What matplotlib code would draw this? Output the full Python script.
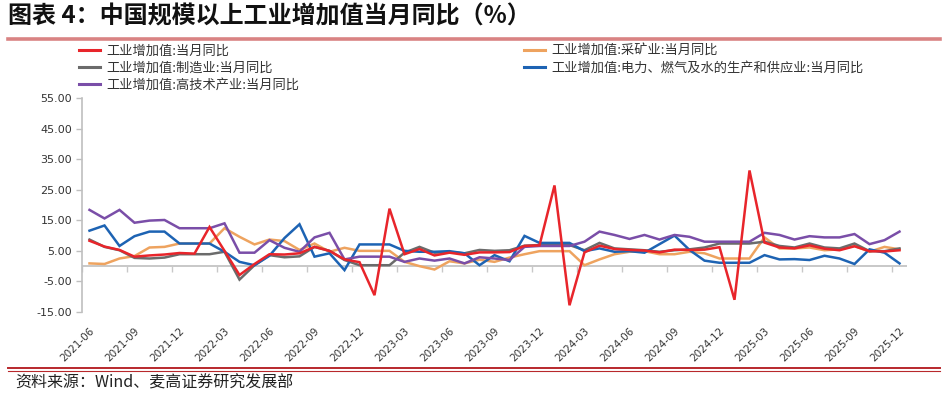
import matplotlib
matplotlib.use("Agg")
import matplotlib.pyplot as plt
from matplotlib.lines import Line2D
import numpy as np

plt.rcParams['font.family'] = ['Noto Sans CJK SC', 'DejaVu Sans']

months = [f"{y}-{m:02d}" for y in range(2021, 2026) for m in range(1, 13)][5:]

industry = [8.3, 6.4, 5.3, 3.1, 3.5, 3.8, 4.3,
            4.1, 12.8, 5.0, -2.9, 0.7, 3.9, 3.8, 4.2, 6.3, 5.0, 2.2, 1.3,
            -9.5, 18.8, 3.9, 5.6, 3.5, 4.4, 3.7, 4.5, 4.5, 4.6, 6.6, 6.8,
            26.4, -12.8, 4.5, 6.7, 5.6, 5.3, 5.1, 4.5, 5.4, 5.3, 5.4, 6.2,
            -11.0, 31.3, 7.7, 6.1, 5.8, 6.8, 5.7, 5.2, 6.5, 4.9, 4.8, 5.2]
mining = [0.9, 0.7, 2.5, 3.3, 6.1, 6.3, 7.4,
          7.4, 7.4, 12.4, 9.6, 7.1, 8.7, 8.2, 5.3, 7.4, 4.7, 6.0, 5.0,
          5.0, 5.0, 1.4, 0.0, -1.1, 1.6, 0.9, 2.1, 1.4, 2.8, 3.9, 4.9,
          4.9, 4.9, 0.3, 2.2, 3.9, 4.7, 4.9, 3.9, 3.9, 4.7, 4.2, 2.5,
          2.5, 2.5, 9.4, 5.8, 5.8, 6.1, 5.2, 5.5, 6.6, 4.7, 6.3, 5.5]
manufacturing = [8.7, 6.3, 5.2, 2.7, 2.5, 2.8, 3.9,
                 3.9, 3.9, 4.7, -4.4, 0.3, 3.6, 2.9, 3.2, 6.3, 5.0, 2.0, 0.3,
                 0.3, 0.3, 4.4, 6.3, 4.4, 4.6, 4.2, 5.3, 5.0, 5.2, 6.7, 6.9,
                 6.9, 6.9, 5.2, 7.6, 5.8, 5.5, 5.2, 4.7, 5.2, 5.5, 6.1, 7.4,
                 7.4, 7.4, 8.0, 6.6, 6.1, 7.4, 6.1, 5.8, 7.4, 4.9, 4.9, 5.8]
utilities = [11.6, 13.3, 6.6, 9.8, 11.3, 11.3, 7.4,
             7.4, 7.4, 4.7, 1.4, 0.3, 3.4, 9.2, 13.7, 3.1, 4.2, -1.3, 7.1,
             7.1, 7.1, 5.0, 4.7, 4.7, 4.9, 4.2, 0.3, 3.6, 1.6, 9.9, 7.6,
             7.6, 7.6, 4.9, 5.8, 4.7, 4.9, 4.4, 7.2, 10.0, 5.3, 1.8, 1.1,
             1.1, 1.1, 3.6, 2.2, 2.3, 2.0, 3.4, 2.5, 0.7, 5.5, 4.4, 0.9]
hightech = [18.4, 15.6, 18.4, 14.2, 14.9, 15.1, 12.4,
            12.4, 12.4, 14.0, 4.4, 4.4, 8.5, 6.0, 4.7, 9.4, 10.9, 2.2, 3.1,
            3.1, 3.1, 1.4, 2.5, 1.8, 2.5, 0.9, 2.9, 2.5, 2.0, 6.3, 6.6,
            6.6, 6.6, 8.0, 11.3, 10.2, 8.9, 10.2, 8.7, 10.2, 9.6, 8.0, 8.0,
            8.0, 8.0, 10.9, 10.2, 8.7, 9.8, 9.4, 9.4, 10.5, 7.2, 8.5, 11.3]

series = [
    ("工业增加值:当月同比", industry, "#e8252b"),
    ("工业增加值:制造业:当月同比", manufacturing, "#6b6b6b"),
    ("工业增加值:高技术产业:当月同比", hightech, "#7a4ea8"),
    ("工业增加值:采矿业:当月同比", mining, "#eea35f"),
    ("工业增加值:电力、燃气及水的生产和供应业:当月同比", utilities, "#1d63b3"),
]
draw_order = [3, 1, 4, 2, 0]

fig = plt.figure(figsize=(9.47, 3.95), dpi=100)
ax = fig.add_axes([82/947, 1-312/395, 825/947, 214/395])

x = np.arange(len(months))
handles = [None]*len(series)
for k in draw_order:
    name, vals, col = series[k]
    h, = ax.plot(x, vals, color=col, lw=1.8, label=name, solid_joinstyle='miter')
    handles[k] = h

ax.set_xlim(-0.5, len(months)-0.5)
ax.set_ylim(-15, 55)
ax.set_yticks(np.arange(-15, 56, 10))
ax.set_yticklabels([f"{v:.2f}" for v in np.arange(-15, 56, 10)], fontsize=8,
                   family='DejaVu Sans', color='#333333')
ax.tick_params(axis='y', length=4, color='#bfbfbf', width=1, pad=3)

ax.set_xticks(x[::3])
ax.set_xticklabels(months[::3], rotation=45, ha='right', rotation_mode='anchor',
                   fontsize=7.5, family='DejaVu Sans', color='#333333')
ax.tick_params(axis='x', length=0, pad=10)

for s in ['top', 'right', 'bottom']:
    ax.spines[s].set_visible(False)
ax.spines['left'].set_color('#bfbfbf')
ax.spines['left'].set_linewidth(1.2)

ax.axhline(0, color='#c8c8c8', lw=1.4, zorder=1)
sec = ax.secondary_xaxis(15/70)
sec.set_xticks(np.arange(-0.5, len(months), 3))
sec.set_xticklabels([])
sec.tick_params(length=4, color='#c8c8c8', width=1)
sec.spines['bottom'].set_visible(False)

leg = fig.legend(handles=handles, loc='upper left', bbox_to_anchor=(79/947, 1-44.5/395),
                 ncol=2, frameon=False, fontsize=9.5, handlelength=1.6,
                 handletextpad=0.5, columnspacing=17.0, labelspacing=0.32,
                 borderaxespad=0, borderpad=0)
for t in leg.get_texts():
    t.set_color('#333333')
for l in leg.get_lines():
    l.set_linewidth(2.2)

fig.text(8/947, 1-17/395, "图表 4：中国规模以上工业增加值当月同比（%）", fontsize=17.3,
         fontweight='bold', va='center', ha='left', color='#111111')

fig.add_artist(Line2D([8/947, 940/947], [1-38.5/395]*2, transform=fig.transFigure,
                      color='#d98383', lw=2.6))
fig.add_artist(Line2D([8/947, 940/947], [1-367.5/395]*2, transform=fig.transFigure,
                      color='#b8282c', lw=1.4))
fig.add_artist(Line2D([8/947, 940/947], [1-370.5/395]*2, transform=fig.transFigure,
                      color='#b8282c', lw=0.8))

fig.text(15/947, 1-383/395, "资料来源：Wind、麦高证券研究发展部", fontsize=11.5,
         va='center', ha='left', color='#222222')

fig.savefig("out.png", dpi=100)
